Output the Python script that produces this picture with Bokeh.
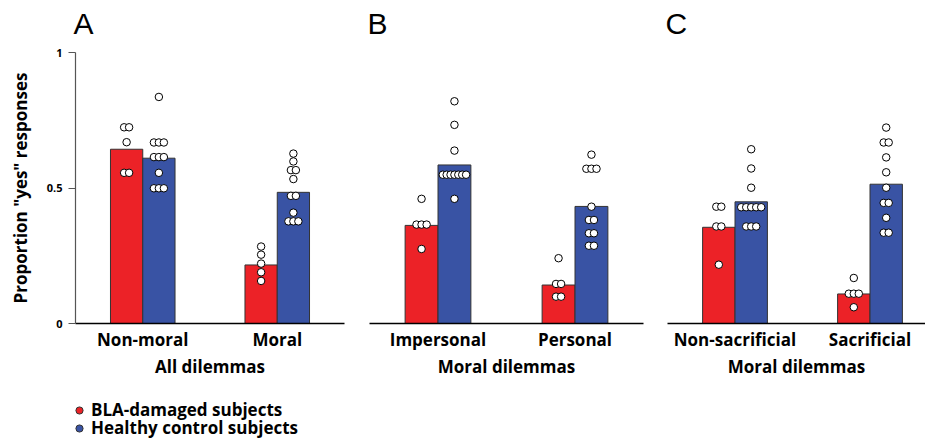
from bokeh.plotting import figure
from bokeh.layouts import row, column
from bokeh.models import Range1d, FixedTicker, Legend, LegendItem, Label
from bokeh.embed import file_html
from bokeh.resources import INLINE

# ---------------- data ----------------
groups = ["BLA-damaged subjects", "Healthy control subjects"]
panel_letters = ["A", "B", "C"]
axis_titles = ["All dilemmas", "Moral dilemmas", "Moral dilemmas"]
y_axis_title = 'Proportion "yes" responses'
y_ticks = [0, 0.5, 1]
y_tick_labels = ["0", "0.5", "1"]

cats_a = ["Non-moral", "Moral"]
cats_b = ["Impersonal", "Personal"]
cats_c = ["Non-sacrificial", "Sacrificial"]

bla_mean_a = [0.643, 0.216]
ctl_mean_a = [0.610, 0.484]
bla_mean_b = [0.362, 0.142]
ctl_mean_b = [0.585, 0.432]
bla_mean_c = [0.355, 0.109]
ctl_mean_c = [0.449, 0.514]

bla_pts_a = [
    [0.724, 0.724, 0.669, 0.556, 0.556],
    [0.284, 0.254, 0.221, 0.189, 0.157],
]
ctl_pts_a = [
    [0.836, 0.668, 0.668, 0.668, 0.614, 0.614, 0.614, 0.556, 0.499, 0.499, 0.499],
    [0.627, 0.598, 0.566, 0.566, 0.533, 0.471, 0.471, 0.409, 0.377, 0.377, 0.377],
]
bla_pts_b = [
    [0.460, 0.365, 0.365, 0.365, 0.275],
    [0.241, 0.146, 0.146, 0.099, 0.099],
]
ctl_pts_b = [
    [0.820, 0.733, 0.638, 0.549, 0.549, 0.549, 0.549, 0.549, 0.549, 0.549, 0.460],
    [0.623, 0.571, 0.571, 0.571, 0.431, 0.382, 0.382, 0.333, 0.333, 0.287, 0.287],
]
bla_pts_c = [
    [0.431, 0.431, 0.358, 0.358, 0.217],
    [0.168, 0.110, 0.110, 0.110, 0.060],
]
ctl_pts_c = [
    [0.643, 0.572, 0.501, 0.429, 0.429, 0.429, 0.429, 0.429, 0.358, 0.358, 0.358],
    [0.723, 0.668, 0.668, 0.613, 0.558, 0.501, 0.445, 0.445, 0.390, 0.335, 0.335],
]

# ---------------- style / layout ----------------
FONT = "Open Sans"
RED = "#EC2227"
BLUE = "#3953A4"
EDGE = "#333333"
BAR_W = 0.24
HEAD_H = 40          # strip holding the panel letters
ROW_H = 340          # panels
LEG_H = 58           # legend strip
FRAME_TOP = 12
FRAME_H = 272
NAN = float("nan")

# (figure width, left border, right border, x_end) of each panel
panel_geom = [(357, 75, 13, 2.5), (298, 12, 12, 2.5), (270, 12, 0, 0.5 + 258 / 135)]
TOTAL_W = sum(g[0] for g in panel_geom)


def dot_offsets(vals, step=0.037, maxspan=0.17):
    counts = {}
    for v in vals:
        counts[v] = counts.get(v, 0) + 1
    seen = {}
    offs = []
    for v in vals:
        n = counts[v]
        i = seen.get(v, 0)
        seen[v] = i + 1
        s = step if n < 2 else min(step, maxspan / (n - 1))
        offs.append((i - (n - 1) / 2) * s)
    return offs


def make_panel(cats, bla_mean, ctl_mean, bla_pts, ctl_pts, xlabel, geom, show_y):
    width, bl, br, x_end = geom
    p = figure(width=width, height=ROW_H,
               x_range=Range1d(0.5, x_end), y_range=Range1d(0, 1),
               output_backend="svg", toolbar_location=None,
               min_border_left=bl, min_border_right=br,
               min_border_top=FRAME_TOP,
               min_border_bottom=ROW_H - FRAME_TOP - FRAME_H,
               y_axis_location="left" if show_y else None)
    xs = [1, 2]
    p.vbar(x=[x - BAR_W / 2 for x in xs], top=bla_mean, width=BAR_W,
           fill_color=RED, line_color=EDGE, line_width=1)
    p.vbar(x=[x + BAR_W / 2 for x in xs], top=ctl_mean, width=BAR_W,
           fill_color=BLUE, line_color=EDGE, line_width=1)
    for k, x in enumerate(xs):
        for pts, sign in ((bla_pts[k], -1), (ctl_pts[k], 1)):
            offs = dot_offsets(pts)
            p.scatter(x=[x + sign * BAR_W / 2 + o for o in offs], y=pts,
                      size=7.5, fill_color="white", line_color="black",
                      line_width=1)

    p.grid.visible = False
    p.outline_line_color = None
    p.background_fill_color = "white"

    xa = p.xaxis[0]
    xa.ticker = FixedTicker(ticks=xs)
    xa.major_label_overrides = {1: cats[0], 2: cats[1]}
    xa.axis_label = xlabel
    for attr in ("axis_label", "major_label"):
        setattr(xa, attr + "_text_font", FONT)
        setattr(xa, attr + "_text_font_style", "bold")
        setattr(xa, attr + "_text_font_size", "17px")
        setattr(xa, attr + "_text_color", "black")
    xa.major_tick_out = 0
    xa.major_tick_in = 0
    xa.minor_tick_out = 0
    xa.minor_tick_in = 0
    xa.axis_line_width = 1.5
    xa.axis_line_color = "black"
    xa.major_label_standoff = 4
    xa.axis_label_standoff = 1

    if show_y:
        ya = p.yaxis[0]
        ya.ticker = FixedTicker(ticks=y_ticks)
        ya.major_label_overrides = dict(zip(y_ticks, y_tick_labels))
        ya.axis_label = y_axis_title
        ya.axis_label_text_font = FONT
        ya.axis_label_text_font_style = "bold"
        ya.axis_label_text_font_size = "17px"
        ya.axis_label_text_color = "black"
        ya.major_label_text_font = FONT
        ya.major_label_text_font_style = "bold"
        ya.major_label_text_font_size = "11px"
        ya.major_label_text_color = "black"
        ya.major_tick_out = 7
        ya.major_tick_in = 0
        ya.minor_tick_out = 0
        ya.minor_tick_in = 0
        ya.axis_line_color = "#555555"
        ya.major_tick_line_color = "#555555"
        ya.axis_line_width = 1.2
        ya.major_label_standoff = 6
        ya.axis_label_standoff = 12
    return p


pa = make_panel(cats_a, bla_mean_a, ctl_mean_a, bla_pts_a, ctl_pts_a,
                axis_titles[0], panel_geom[0], True)
pb = make_panel(cats_b, bla_mean_b, ctl_mean_b, bla_pts_b, ctl_pts_b,
                axis_titles[1], panel_geom[1], False)
pc = make_panel(cats_c, bla_mean_c, ctl_mean_c, bla_pts_c, ctl_pts_c,
                axis_titles[2], panel_geom[2], False)


def strip(width, height):
    s = figure(width=width, height=height,
               x_range=Range1d(0, width), y_range=Range1d(0, height),
               output_backend="svg", toolbar_location=None,
               x_axis_location=None, y_axis_location=None,
               min_border_left=0, min_border_right=0,
               min_border_top=0, min_border_bottom=0)
    s.grid.visible = False
    s.outline_line_color = None
    return s


# ---------------- panel letters ----------------
head = strip(TOTAL_W, HEAD_H)
left_edge = 0
for letter, g in zip(panel_letters, panel_geom):
    head.add_layout(Label(x=left_edge + g[1] - 2, y=HEAD_H - 22.5, text=letter,
                          text_font="Liberation Sans", text_font_size="30px",
                          text_color="black", text_baseline="middle",
                          text_align="left"))
    left_edge += g[0]

# ---------------- legend strip ----------------
pl = strip(panel_geom[0][0], LEG_H)
r_bla = pl.scatter(x=[NAN], y=[NAN], size=7, fill_color=RED, line_color=EDGE)
r_ctl = pl.scatter(x=[NAN], y=[NAN], size=7, fill_color=BLUE, line_color=EDGE)
for k, (grp, rend) in enumerate(zip(groups, (r_bla, r_ctl))):
    centre = 30 + 18 * k          # item centre, px from strip top
    leg = Legend(items=[LegendItem(label=grp, renderers=[rend])],
                 location=(70, LEG_H - centre - 11),
                 glyph_width=18, glyph_height=18,
                 label_standoff=3, padding=0, margin=0, spacing=0,
                 border_line_color=None, background_fill_alpha=0,
                 label_text_font=FONT, label_text_font_style="bold",
                 label_text_font_size="17px", label_text_color="black",
                 label_height=18)
    pl.add_layout(leg)

layout = column(head, row(pa, pb, pc), pl)
open("out.html", "w").write(file_html(layout, INLINE))
